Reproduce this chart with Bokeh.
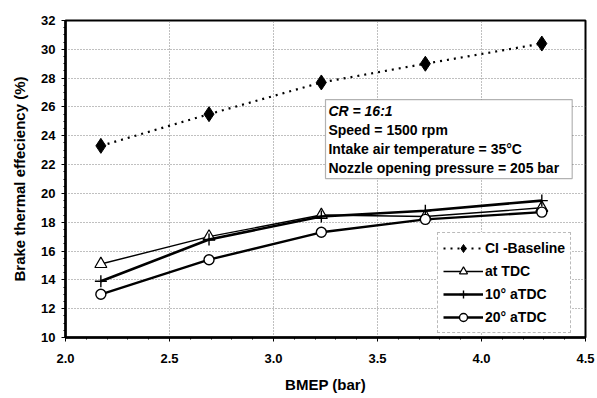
from bokeh.plotting import figure
from bokeh.models import (Label, BoxAnnotation, Legend, LegendItem, FixedTicker,
                          NumeralTickFormatter)
from bokeh.embed import file_html
from bokeh.resources import INLINE

# BMEP load points (bar)
bmep = [2.17, 2.69, 3.23, 3.73, 4.29]

# Brake thermal efficiency (%) per injection timing
ci_baseline = [23.3, 25.5, 27.7, 29.0, 30.4]
at_tdc = [15.1, 17.0, 18.5, 18.4, 19.0]
atdc_10 = [13.9, 16.8, 18.4, 18.8, 19.5]
atdc_20 = [13.0, 15.4, 17.3, 18.2, 18.7]

x_ticks = [2.0, 2.5, 3.0, 3.5, 4.0, 4.5]
y_ticks = [10, 12, 14, 16, 18, 20, 22, 24, 26, 28, 30, 32]

conditions = [
    "CR = 16:1",
    "Speed = 1500 rpm",
    "Intake air temperature = 35°C",
    "Nozzle opening pressure = 205 bar",
]

FONT = "Liberation Sans"

p = figure(width=597, height=398, x_range=(2.0, 4.5), y_range=(10, 32),
           output_backend="svg", toolbar_location=None,
           min_border_left=65, min_border_right=12, min_border_top=20,
           min_border_bottom=61)
p.outline_line_color = "black"
p.outline_line_width = 2
p.background_fill_color = "white"

# dotted grid
for g in (p.xgrid, p.ygrid):
    g.grid_line_color = "#808080"
    g.grid_line_dash = "1 2"
    g.grid_line_width = 1

# axes
p.xaxis.ticker = FixedTicker(ticks=x_ticks, minor_ticks=[2.0 + 0.1 * i for i in range(26)])
p.yaxis.ticker = FixedTicker(ticks=y_ticks, minor_ticks=[10 + 0.5 * i for i in range(45)])
p.xaxis.formatter = NumeralTickFormatter(format="0.0")
for ax in (p.xaxis, p.yaxis):
    ax.axis_line_color = "black"
    ax.axis_line_width = 2.5
    ax.major_tick_line_color = "black"
    ax.minor_tick_line_color = "black"
    ax.major_tick_in = 0
    ax.major_tick_out = 4
    ax.minor_tick_in = 0
    ax.minor_tick_out = 2
    ax.major_label_text_font = FONT
    ax.major_label_text_font_style = "bold"
    ax.major_label_text_font_size = "13px"
    ax.major_label_text_color = "black"
    ax.axis_label_text_font = FONT
    ax.axis_label_text_font_style = "bold"
    ax.axis_label_text_font_size = "15px"
    ax.axis_label_text_color = "black"
p.xaxis.axis_label = "BMEP (bar)"
p.yaxis.axis_label = "Brake thermal effeciency (%)"
p.xaxis.major_label_standoff = 12
p.xaxis.axis_label_standoff = 10
p.yaxis.major_label_standoff = 6
p.yaxis.axis_label_standoff = 10

# series
r1l = p.line(bmep, ci_baseline, line_color="black", line_width=2.2, line_dash="2 5")
r1m = p.scatter(bmep, ci_baseline, marker="diamond", size=15, fill_color="black", line_color="black")

r2l = p.line(bmep, at_tdc, line_color="black", line_width=1.4)
r2m = p.scatter(bmep, at_tdc, marker="triangle", size=12, fill_color="white", line_color="black", line_width=1.2)

r3l = p.line(bmep, atdc_10, line_color="black", line_width=2.6)
r3m = p.scatter(bmep, atdc_10, marker="cross", size=12, line_color="black", line_width=1.4)

r4l = p.line(bmep, atdc_20, line_color="black", line_width=2.4)
r4m = p.scatter(bmep, atdc_20, marker="circle", size=10, fill_color="white", line_color="black", line_width=1.4)

# operating-conditions box
p.add_layout(BoxAnnotation(left=3.25, right=4.436, top=26.51, bottom=21.03,
                           fill_color="white", fill_alpha=1.0,
                           line_color="black", line_width=1.2, level="overlay"))
ys = [25.75, 24.43, 23.11, 21.79]
for i, (txt, yy) in enumerate(zip(conditions, ys)):
    p.add_layout(Label(x=3.264, y=yy, text=txt, text_font=FONT,
                       text_font_style="bold italic" if i == 0 else "bold",
                       text_font_size="14px", text_color="black",
                       text_baseline="middle", text_align="left", level="overlay"))

legend = Legend(items=[
    LegendItem(label="CI -Baseline", renderers=[r1l, r1m]),
    LegendItem(label="at TDC", renderers=[r2l, r2m]),
    LegendItem(label="10° aTDC", renderers=[r3l, r3m]),
    LegendItem(label="20° aTDC", renderers=[r4l, r4m]),
], location=(372, 4))
legend.label_text_font = FONT
legend.label_text_font_style = "bold"
legend.label_text_font_size = "14px"
legend.label_text_color = "black"
legend.border_line_color = "#777777"
legend.border_line_dash = "1 2"
legend.border_line_width = 1
legend.background_fill_alpha = 1.0
legend.glyph_width = 40
legend.glyph_height = 20
legend.spacing = 3
legend.padding = 5
legend.margin = 0
legend.label_standoff = 2
p.add_layout(legend)

open("out.html", "w").write(file_html(p, INLINE))
